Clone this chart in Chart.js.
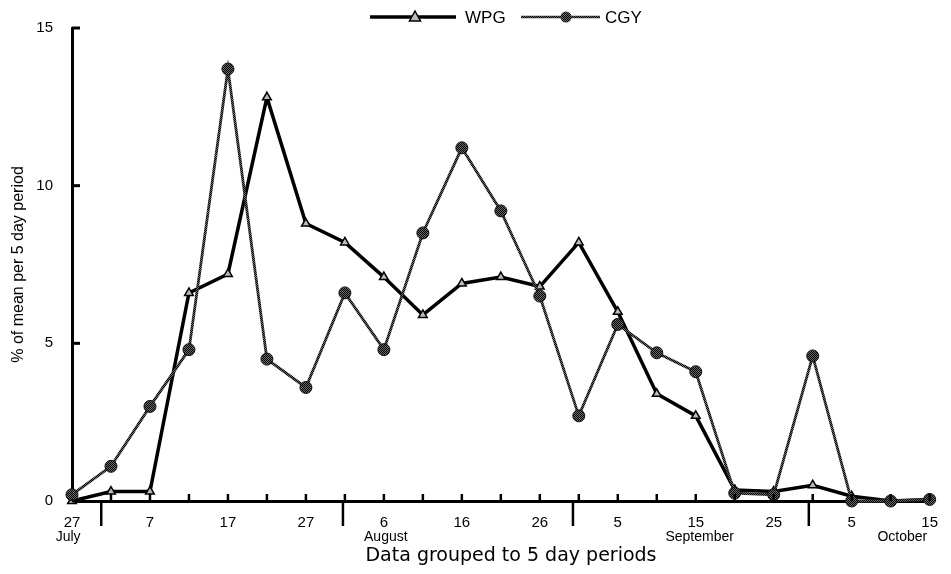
<!DOCTYPE html>
<html>
<head>
<meta charset="utf-8">
<script src="https://cdn.jsdelivr.net/npm/chart.js@4.4.0/dist/chart.umd.min.js"></script>
<style>
  html, body { margin: 0; padding: 0; background: #fff; }
  #wrap { width: 951px; height: 574px; }
</style>
</head>
<body>
<div id="wrap"><canvas id="myChart"></canvas></div>
<script>
// 5 day periods, label on every other period
const periodLabels = ['27', '', '7', '', '17', '', '27', '', '6', '', '16', '', '26', '', '5', '', '15', '', '25', '', '5', '', '15'];
const wpg = [0, 0.3, 0.3, 6.6, 7.2, 12.8, 8.8, 8.2, 7.1, 5.9, 6.9, 7.1, 6.8, 8.2, 6.0, 3.4, 2.7, 0.35, 0.3, 0.5, 0.15, 0, 0.05];
const cgy = [0.2, 1.1, 3.0, 4.8, 13.7, 4.5, 3.6, 6.6, 4.8, 8.5, 11.2, 9.2, 6.5, 2.7, 5.6, 4.7, 4.1, 0.25, 0.2, 4.6, 0, 0, 0.05];
const yTicks = [0, 5, 10, 15];
// month names and where they sit (in period units), month boundaries
const months = ['July', 'August', 'September', 'October'];
const monthAt = [-0.1, 8.05, 16.1, 21.3];
const monthBreaks = [0.75, 6.95, 12.85, 18.9];

// halftone look for the CGY line
function halftone() {
    const c = document.createElement('canvas');
    c.width = 2; c.height = 2;
    const g = c.getContext('2d');
    g.fillStyle = '#6a6a6a';
    g.fillRect(0, 0, 2, 2);
    g.fillStyle = '#000';
    g.fillRect(0, 0, 1, 1);
    g.fillRect(1, 1, 1, 1);
    return g.createPattern(c, 'repeat');
}
const grey = halftone();

function line(ctx, x1, y1, x2, y2, w) {
    ctx.beginPath();
    ctx.lineWidth = w;
    ctx.moveTo(x1, y1);
    ctx.lineTo(x2, y2);
    ctx.stroke();
}

const extras = {
    id: 'extras',
    afterDraw(chart) {
        const ctx = chart.ctx;
        const x = chart.scales.x, y = chart.scales.y;
        ctx.save();
        ctx.strokeStyle = '#000';
        ctx.lineCap = 'butt';
        // inward y ticks
        yTicks.forEach(v => {
            const py = y.getPixelForValue(v);
            line(ctx, x.left, py, x.left + 8, py, 3);
        });
        // small x ticks on each period
        for (let i = 1; i < periodLabels.length; i++) {
            const px = x.getPixelForValue(i);
            line(ctx, px, y.bottom, px, y.bottom - 7, 2.5);
        }
        // month boundaries
        monthBreaks.forEach(b => {
            const px = x.getPixelForValue(b);
            line(ctx, px, y.bottom, px, y.bottom + 25, 2.5);
        });
        // month names
        ctx.fillStyle = '#000';
        ctx.font = '14px "Liberation Sans", Arial, sans-serif';
        ctx.textAlign = 'center';
        ctx.textBaseline = 'middle';
        months.forEach((m, i) => {
            ctx.fillText(m, x.getPixelForValue(monthAt[i]), 537);
        });
        // x title
        ctx.font = '19px "DejaVu Sans", sans-serif';
        ctx.fillText('Data grouped to 5 day periods', 511, 556);

        // legend
        const ly = 17;
        ctx.strokeStyle = '#000';
        line(ctx, 370, ly, 456, ly, 3.5);
        ctx.beginPath();
        ctx.lineWidth = 1.5;
        ctx.fillStyle = '#bbb';
        ctx.moveTo(415, ly - 6); ctx.lineTo(420.5, ly + 4); ctx.lineTo(409.5, ly + 4); ctx.closePath();
        ctx.fill(); ctx.stroke();
        ctx.strokeStyle = grey;
        line(ctx, 521, ly, 600, ly, 2.5);
        ctx.beginPath();
        ctx.fillStyle = grey;
        ctx.arc(566, ly, 5.5, 0, Math.PI * 2);
        ctx.fill();
        ctx.fillStyle = '#000';
        ctx.font = '17px "Liberation Sans", Arial, sans-serif';
        ctx.textAlign = 'left';
        ctx.fillText('WPG', 465, ly + 1);
        ctx.fillText('CGY', 605, ly + 1);
        ctx.restore();
    }
};

document.addEventListener('DOMContentLoaded', function() {
    const ctx = document.getElementById('myChart').getContext('2d');
    const myChart = new Chart(ctx, {
        type: 'line',
        data: {
            labels: periodLabels,
            datasets: [
                {
                    label: 'CGY',
                    data: cgy,
                    borderColor: grey,
                    borderWidth: 2.8,
                    pointStyle: 'circle',
                    pointRadius: 6,
                    pointBackgroundColor: grey,
                    pointBorderColor: '#111',
                    pointBorderWidth: 1,
                    tension: 0,
                    clip: false
                },
                {
                    label: 'WPG',
                    data: wpg,
                    borderColor: '#000',
                    borderWidth: 3.5,
                    pointStyle: 'triangle',
                    pointRadius: 5,
                    pointBackgroundColor: '#bbb',
                    pointBorderColor: '#000',
                    pointBorderWidth: 1.5,
                    tension: 0,
                    clip: false
                }
            ]
        },
        options: {
            responsive: true,
            maintainAspectRatio: false,
            animation: false,
            layout: { padding: { left: 0, right: 15, top: 21, bottom: 0 } },
            plugins: {
                legend: { display: false },
                tooltip: { enabled: false }
            },
            scales: {
                x: {
                    offset: false,
                    grid: { display: false, drawTicks: false },
                    border: { color: '#000', width: 3 },
                    ticks: {
                        autoSkip: false,
                        maxRotation: 0,
                        padding: 13,
                        color: '#000',
                        font: { family: '"Liberation Sans", Arial, sans-serif', size: 15 }
                    },
                    afterFit: s => { s.height = 73; }
                },
                y: {
                    min: 0,
                    max: 15,
                    grid: { display: false, drawTicks: false },
                    border: { color: '#000', width: 3 },
                    ticks: {
                        stepSize: 5,
                        padding: 19,
                        color: '#000',
                        font: { family: '"Liberation Sans", Arial, sans-serif', size: 15 }
                    },
                    title: {
                        display: true,
                        text: '% of mean per 5 day period',
                        color: '#000',
                        padding: { top: 9, bottom: 0 },
                        font: { family: '"Liberation Sans", Arial, sans-serif', size: 16 }
                    },
                    afterFit: s => { s.width = 72; }
                }
            }
        },
        plugins: [extras]
    });
});
</script>
</body>
</html>
